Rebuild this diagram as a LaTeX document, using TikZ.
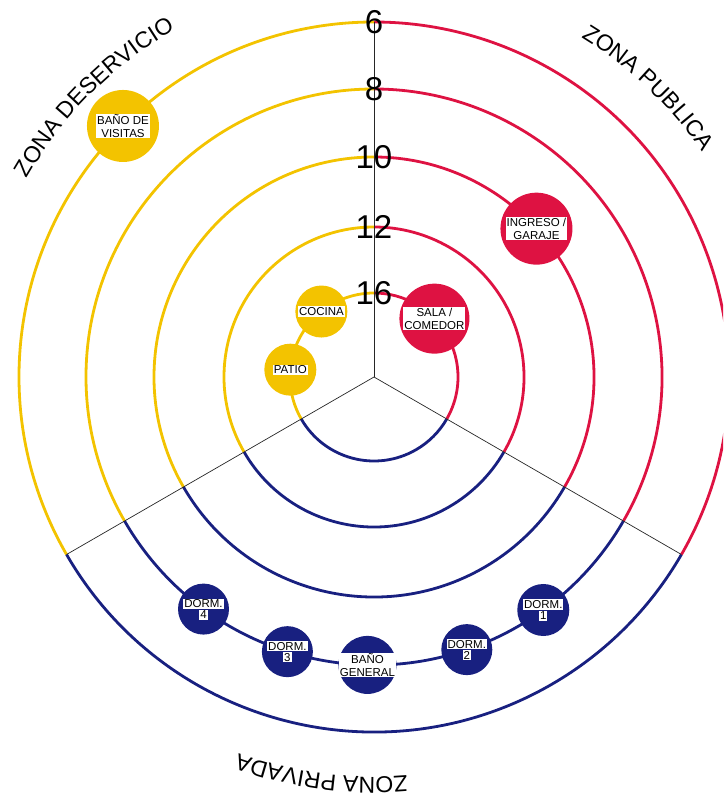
\documentclass[tikz,border=0pt]{standalone}
\usepackage{fontspec}
\setmainfont{Liberation Sans}
\usetikzlibrary{decorations.text}

\definecolor{zyellow}{RGB}{243,195,0}
\definecolor{zred}{RGB}{222,18,66}
\definecolor{zblue}{RGB}{24,32,128}

\newcommand\zonefont{\fontsize{23}{23}\selectfont}
\newcommand\wb[1]{{\setlength\fboxsep{1pt}\colorbox{white}{#1}}}

\begin{document}
\begin{tikzpicture}[
  ring/.style={line width=2.8pt},
  divider/.style={line width=0.7pt, black!85},
  room/.style={circle, inner sep=0pt, minimum size=#1},
  lbl/.style={fill=white, align=center, inner sep=1pt,
              font=\fontsize{11.5}{12.5}\selectfont},
  plain/.style={align=center, inner sep=0pt,
              font=\fontsize{11.5}{12.5}\selectfont},
  num/.style={inner sep=0pt, font=\fontsize{33}{33}\selectfont},
]
\useasboundingbox (-374pt,-422pt) rectangle (349pt,377pt);
\clip (-374pt,-422pt) rectangle (349pt,377pt);

\coordinate (O) at (0,0);

% concentric rings, one colour per zone
\foreach \r in {355,288,220,150,84} {
  \draw[ring, zyellow] (90:\r pt) arc[start angle=90, end angle=210, radius=\r pt];
  \draw[ring, zblue]   (210:\r pt) arc[start angle=210, end angle=330, radius=\r pt];
  \draw[ring, zred]    (330:\r pt) arc[start angle=330, end angle=450, radius=\r pt];
}

% zone dividers
\coordinate (top)   at (90:355pt);
\coordinate (left)  at (210:355pt);
\coordinate (right) at (330:355pt);
\draw[divider] (O) -- (top);
\draw[divider] (O) -- (left);
\draw[divider] (O) -- (right);

% zone names, set along an outer circle
\path[decorate, decoration={text along path, text align=center,
      text={|\zonefont|ZONA DESERVICIO}}]
  (162:400pt) arc[start angle=162, end angle=108, radius=400pt];
\path[decorate, decoration={text along path, text align=center,
      text={|\zonefont|ZONA PUBLICA}}]
  (73.5:398pt) arc[start angle=73.5, end angle=19.5, radius=398pt];
\path[decorate, decoration={text along path, text align=center,
      text={|\zonefont|ZONA PRIVADA}}]
  (290:400pt) arc[start angle=290, end angle=235, radius=400pt];

% rooms
\node[room=72pt, fill=zyellow] (banovis) at (135:355pt) {};
\node[room=72pt, fill=zred]    (ingreso) at (42.4:220pt) {};
\node[room=70pt, fill=zred]    (sala)    at (44:84pt) {};
\node[room=52pt, fill=zyellow] (cocina)  at (128.8:84pt) {};
\node[room=52pt, fill=zyellow] (patio)   at (175:84pt) {};
\node[room=51pt, fill=zblue]   (dorm4)   at (233.7:288pt) {};
\node[room=51pt, fill=zblue]   (dorm3)   at (252.5:288pt) {};
\node[room=58pt, fill=zblue]   (banogen) at (268.7:288pt) {};
\node[room=51pt, fill=zblue]   (dorm2)   at (288.8:288pt) {};
\node[room=52pt, fill=zblue]   (dorm1)   at (306:288pt) {};

% room names
\node[lbl] (tbanovis) at (banovis) {BAÑO DE\\VISITAS};
\node[lbl] (tingreso) at (ingreso) {INGRESO /\\GARAJE};
\node[lbl] (tsala)    at (sala)    {SALA /\\COMEDOR};
\node[lbl] (tcocina)  at (cocina)  {COCINA};
\node[lbl] (tpatio)   at (patio)   {PATIO};
\node[lbl] (tbanogen) at (banogen) {BAÑO\\GENERAL};
\node[plain] (tdorm4) at (dorm4) {\wb{DORM.}\\[-1.5pt]\wb{4}};
\node[plain] (tdorm3) at (dorm3) {\wb{DORM.}\\[-1.5pt]\wb{3}};
\node[plain] (tdorm2) at (dorm2) {\wb{DORM.}\\[-1.5pt]\wb{2}};
\node[plain] (tdorm1) at (dorm1) {\wb{DORM.}\\[-1.5pt]\wb{1}};

% ring values
\node[num] (n6)  at (90:355pt) {6};
\node[num] (n8)  at (90:288pt) {8};
\node[num] (n10) at (90:220pt) {10};
\node[num] (n12) at (90:150pt) {12};
\node[num] (n16) at (90:84pt)  {16};
\end{tikzpicture}
\end{document}
